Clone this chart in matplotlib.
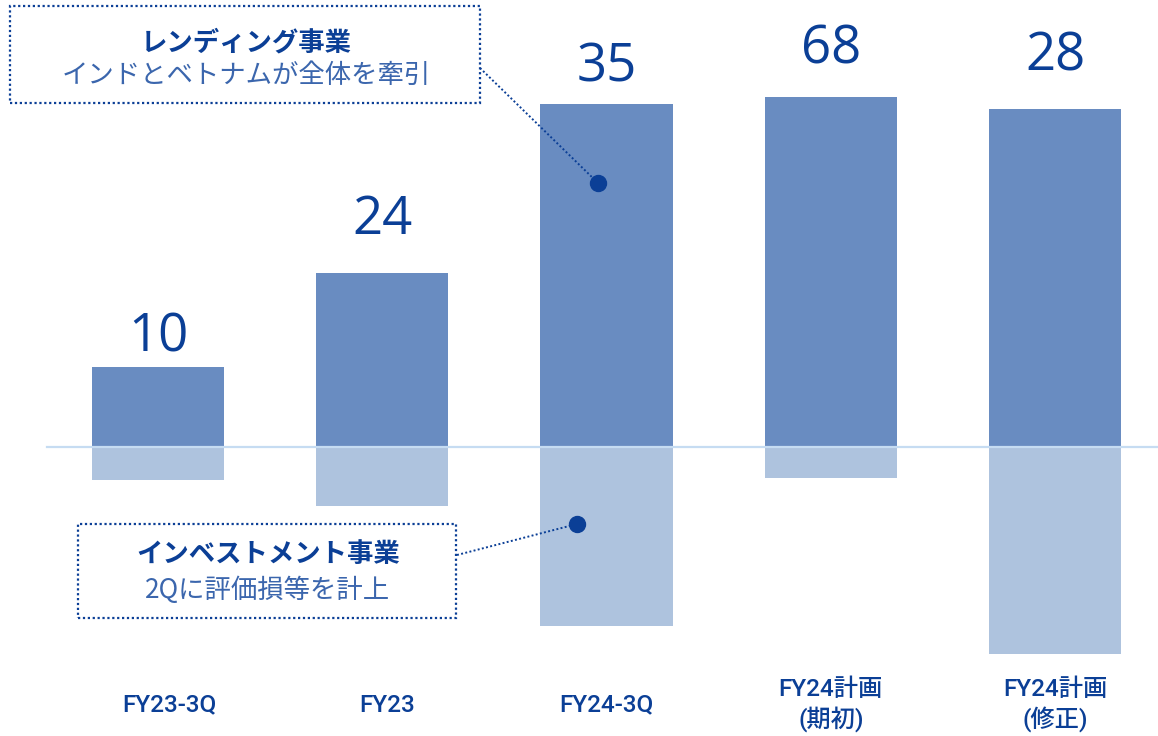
import matplotlib
matplotlib.use("Agg")
import matplotlib.pyplot as plt
from matplotlib.patches import Rectangle

# segment profit (lending above the line, investment below), net total on top
categories = ["FY23-3Q", "FY23", "FY24-3Q", "FY24計画\n(期初)", "FY24計画\n(修正)"]
lending = [17, 37, 73, 74.5, 72]
investment = [-7, -12.5, -38, -6.5, -44]
totals = [10, 24, 35, 68, 28]

lending_title = "レンディング事業"
lending_note = "インドとベトナムが全体を牽引"
invest_title = "インベストメント事業"
invest_note = "2Qに評価損等を計上"

DARK = "#0b3f96"
NOTE = "#3b66ad"
POS = "#698cc1"
NEG = "#aec3de"
BASE = "#c6dcf2"

W, H = 1158, 736
fig = plt.figure(figsize=(W / 100, H / 100), dpi=100)
ax = fig.add_axes([0, 0, 1, 1])
ax.set_xlim(-0.7046, 4.459)
ax.set_ylim(-61.5, 95.1)
ax.axis("off")


def px(x, y):
    # pixel position -> data coords
    return ax.transData.inverted().transform(fig.transFigure.transform((x / W, 1 - y / H)))


xs = range(len(categories))
ax.bar(xs, lending, width=0.59, color=POS, zorder=2)
ax.bar(xs, investment, width=0.59, color=NEG, zorder=2)
ax.axhline(0, xmin=47 / W, xmax=1, color=BASE, lw=1.6, zorder=3)

num_font = ["Open Sans", "DejaVu Sans"]
tick_font = ["Roboto", "Noto Sans CJK JP"]
cjk_font = ["Noto Sans CJK JP", "DejaVu Sans"]

label_gap = [16, 39, 22, 33, 38]
for i, (v, t) in enumerate(zip(lending, totals)):
    ax.annotate(str(t), (i, v), xytext=(0, label_gap[i] * 0.72), textcoords="offset points",
                ha="center", va="baseline", fontsize=38, color=DARK, family=num_font)

tick_y = px(0, 705)[1]
tick_dx = [0.05, 0.02, 0, 0, 0]
for i, c in enumerate(categories):
    ax.text(i + tick_dx[i], tick_y, c, ha="center", va="center", fontsize=17.5, color=DARK,
            family=tick_font, fontweight="medium", linespacing=1.2)

# callout boxes
for (x0, y0, x1, y1) in [(10, 6, 480, 103), (78, 524, 456, 618)]:
    fig.patches.append(Rectangle((x0 / W, 1 - y1 / H), (x1 - x0) / W, (y1 - y0) / H,
                                 transform=fig.transFigure, fill=False, ec=DARK,
                                 lw=1.6, ls=(0, (1, 1.2)), zorder=5))

fig.text(246 / W, 1 - 43 / H, lending_title, ha="center", va="center", fontsize=19,
         fontweight="bold", color=DARK, family=cjk_font)
fig.text(246 / W, 1 - 75 / H, lending_note, ha="center", va="center", fontsize=19,
         color=NOTE, family=cjk_font)
fig.text(268 / W, 1 - 555 / H, invest_title, ha="center", va="center", fontsize=19,
         fontweight="bold", color=DARK, family=cjk_font)
fig.text(268 / W, 1 - 590 / H, invest_note, ha="center", va="center", fontsize=19,
         color=NOTE, family=cjk_font)

# leader lines to the FY24-3Q bar
for start, end in [((480, 68), (598, 183)), ((457, 555), (577, 524))]:
    a = px(*start)
    b = px(*end)
    ax.plot([a[0], b[0]], [a[1], b[1]], color=DARK, lw=1.4, ls=(0, (1, 1.2)), zorder=4)
    ax.plot(b[0], b[1], "o", color=DARK, ms=11.5, zorder=5)

fig.savefig("out.png", dpi=100)
